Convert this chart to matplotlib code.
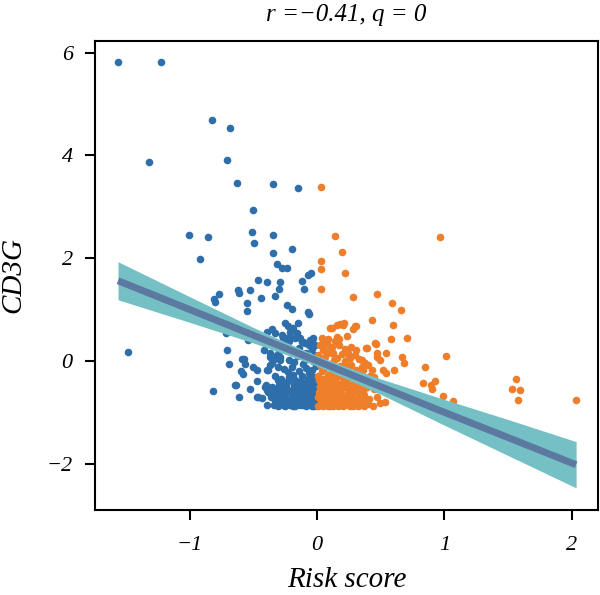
import matplotlib
matplotlib.use("Agg")
import matplotlib.pyplot as plt

# puntos con risk score < 0 (azul)
low_x = [-1.563, -1.225, -1.32, -0.825, -0.683, -0.707, -0.628, -0.346, -0.149, -0.50,
         -1.005, -0.854, -0.508, -0.495, -0.343, -0.921, -0.343, -0.199, -0.314, -0.277,
         -0.233, -0.463, -0.393, -0.293, -0.115, -0.068, -0.049, -0.102, -0.77, -0.618,
         -0.61, -0.529, -0.299, -0.328, -0.442, -0.807, -0.801, -0.548, -0.548, -0.236,
         -0.194, -0.147, -0.073, -0.063, -1.482, -0.815, -0.715, -0.709, -0.689, -0.642,
         -0.61, -0.571, -0.595, -0.579, -0.526, -0.50, -0.469, -0.542, -0.474, -0.469,
         -0.414, -0.403, -0.395, -0.395,
         -0.251, -0.225, -0.212, -0.186, -0.356, -0.39, -0.33, -0.277, -0.16, -0.134,
         -0.094, -0.055, -0.029, -0.369, -0.317, -0.291, -0.592, -0.566, -0.395, -0.369,
         -0.639, -0.408, -0.382, -0.466, -0.33, -0.343, -0.016, -0.081,
         -0.265, -0.238, -0.212, -0.12, -0.042, -0.369, -0.343, -0.356, -0.382, -0.304,
         -0.317, -0.277, -0.238, -0.186, -0.43,
         -0.29, -0.22, -0.15, -0.08, -0.03, -0.18, -0.11,
         -0.31, -0.26, -0.20, -0.14, -0.09, -0.04, -0.01, -0.23, -0.06,
         -0.33, -0.28, -0.22, -0.17, -0.12, -0.07, -0.02, -0.25, -0.10, -0.04, -0.19,
         -0.35, -0.30, -0.24, -0.20, -0.15, -0.11, -0.06, -0.02, -0.27, -0.17, -0.08, -0.13,
         -0.36, -0.31, -0.26, -0.22, -0.18, -0.14, -0.09, -0.05, -0.01, -0.29, -0.12, -0.03,
         -0.34, -0.27, -0.23, -0.19, -0.15, -0.11, -0.07, -0.04, -0.01, -0.21, -0.09,
         -0.30, -0.25, -0.20, -0.14, -0.09, -0.04, -0.22, -0.17, -0.11, -0.06, -0.27, -0.35, -0.02,
         -0.32, -0.29, -0.25, -0.21, -0.16, -0.13, -0.08, -0.04, -0.015,
         -0.33, -0.28, -0.24, -0.20, -0.16, -0.12, -0.07, -0.03, -0.01,
         -0.31, -0.25, -0.21, -0.17, -0.13, -0.09, -0.05, -0.02,
         -0.30, -0.26, -0.18, -0.09, -0.05, -0.02, -0.14, -0.23, -0.06, -0.28]
low_y = [5.82, 5.82, 3.87, 4.68, 4.53, 3.90, 3.47, 3.44, 3.36, 2.94,
         2.45, 2.42, 2.50, 2.30, 2.45, 1.98, 2.09, 2.17, 1.89, 1.80,
         1.80, 1.57, 1.54, 1.54, 1.56, 1.67, 1.71, 1.39, 1.30, 1.37,
         1.32, 1.37, 1.39, 1.26, 1.23, 1.20, 1.14, 1.12, 0.97, 1.08,
         1.01, 0.73, 0.96, 0.91, 0.17, -0.58, 0.54, 0.21, -0.06, -0.47,
         -0.71, 0.04, -0.19, -0.25, -0.55, -0.12, -0.18, 0.40, -0.40, -0.71,
         0.21, -0.47, -0.56, -0.86,
         0.73, 0.67, 0.57, 0.64, 0.62, 0.57, 0.54, 0.51, 0.54, 0.44,
         0.34, 0.41, 0.44, 0.08, 0.12, 0.02, 0.03, -0.06, -0.18, -0.08,
         -0.47, -0.50, -0.60, -0.71, -0.56, -0.66, 0.31, 0.34,
         0.34, 0.44, 0.47, 0.36, 0.38, 0.15, 0.02, -0.05, -0.17, -0.37,
         -0.56, -0.69, -0.82, -0.79, -0.72,
         0.07, 0.02, 0.09, 0.04, -0.01, -0.03, -0.06,
         -0.12, -0.16, -0.11, -0.19, -0.13, -0.17, -0.09, -0.22, -0.24,
         -0.29, -0.35, -0.31, -0.38, -0.30, -0.36, -0.31, -0.42, -0.43, -0.45, -0.27,
         -0.50, -0.55, -0.49, -0.57, -0.51, -0.58, -0.52, -0.59, -0.62, -0.64, -0.65, -0.46,
         -0.70, -0.74, -0.69, -0.76, -0.71, -0.77, -0.72, -0.78, -0.70, -0.80, -0.66, -0.64,
         -0.85, -0.86, -0.83, -0.87, -0.84, -0.86, -0.83, -0.87, -0.84, -0.80, -0.80,
         0.22, 0.30, 0.18, 0.26, 0.16, 0.23, 0.38, 0.45, 0.36, 0.30, 0.45, 0.33, 0.12,
         -0.60, -0.66, -0.58, -0.63, -0.59, -0.69, -0.61, -0.68, -0.56,
         -0.78, -0.72, -0.79, -0.73, -0.81, -0.75, -0.81, -0.74, -0.80,
         -0.87, -0.88, -0.86, -0.88, -0.85, -0.88, -0.85, -0.88,
         -0.47, -0.52, -0.46, -0.49, -0.55, -0.42, -0.41, -0.40, -0.38, -0.44]

# puntos con risk score >= 0 (naranja)
high_x = [0.029, 0.141, 0.966, 0.199, 0.029, 0.029, 0.22, 0.029, 0.28, 0.474,
          0.587, 0.66, 0.43, 0.595, 0.705, 0.579, 0.466, 0.542, 0.385, 0.299,
          0.285, 0.181, 0.202, 0.115, 0.233, 0.175, 0.665, 0.683, 0.607, 0.542,
          0.521, 1.013, 0.851, 0.83, 0.90, 0.927, 0.893, 0.987, 1.071, 0.495,
          0.534, 0.469, 0.495, 0.43, 0.448, 0.351, 0.377, 0.364, 0.246, 0.259,
          0.22, 1.563, 1.529, 1.595, 1.581, 2.035,
          0.10, 0.155, 0.21, 0.31, 0.155, 0.39, 0.456, 0.469, 0.05, 0.076, 0.10, 0.128,
          0.02, 0.07, 0.12, 0.17, 0.05, 0.10, 0.22, 0.27, 0.31, 0.14, 0.09, 0.04,
          0.01, 0.06, 0.11, 0.16, 0.20, 0.25, 0.30, 0.03, 0.13, 0.22, 0.33, 0.08,
          0.02, 0.06, 0.10, 0.14, 0.18, 0.23, 0.27, 0.31, 0.35, 0.40, 0.04, 0.12, 0.20,
          0.01, 0.05, 0.09, 0.13, 0.17, 0.21, 0.25, 0.29, 0.33, 0.38, 0.42, 0.07, 0.16, 0.24,
          0.02, 0.06, 0.10, 0.14, 0.18, 0.22, 0.26, 0.30, 0.34, 0.39, 0.45, 0.04, 0.12, 0.20, 0.28,
          0.01, 0.05, 0.09, 0.13, 0.17, 0.21, 0.25, 0.29, 0.33, 0.37, 0.41, 0.47, 0.36,
          0.02, 0.06, 0.10, 0.14, 0.18, 0.22, 0.26, 0.30, 0.34, 0.40, 0.44, 0.08, 0.16, 0.24,
          0.015, 0.04, 0.08, 0.11, 0.15, 0.19, 0.24, 0.27, 0.32, 0.36,
          0.03, 0.07, 0.11, 0.155, 0.19, 0.23, 0.275, 0.31, 0.35, 0.38,
          0.01, 0.045, 0.085, 0.125, 0.165, 0.205, 0.245, 0.285, 0.32, 0.37,
          0.03, 0.08, 0.12, 0.19, 0.26, 0.30, 0.015, 0.10, 0.21, 0.35]
high_y = [3.39, 2.43, 2.41, 2.11, 1.94, 1.78, 1.71, 1.39, 1.24, 1.31,
          1.12, 0.99, 0.80, 0.69, 0.45, 0.43, 0.33, 0.16, 0.25, 0.67,
          0.62, 0.72, 0.70, 0.64, 0.49, 0.43, 0.07, -0.05, -0.18, -0.23,
          -0.18, 0.10, -0.12, -0.43, -0.55, -0.40, -0.47, -0.68, -0.78, -0.82,
          -0.79, 0.08, 0.02, -0.18, -0.31, 0.02, -0.05, -0.18, 0.15, 0.05,
          -0.05, -0.35, -0.545, -0.565, -0.77, -0.76,
          0.64, 0.70, 0.73, 0.67, 0.47, 0.25, 0.34, 0.15, 0.41, 0.34, 0.21, 0.15,
          0.30, 0.33, 0.27, 0.31, 0.22, 0.20, 0.24, 0.28, 0.21, 0.38, 0.42, 0.45,
          0.12, 0.08, 0.15, 0.06, 0.13, 0.08, 0.12, 0.02, 0.01, 0.00, 0.04, 0.17,
          -0.08, -0.14, -0.06, -0.17, -0.09, -0.15, -0.07, -0.18, -0.11, -0.08, -0.20, -0.22, -0.21,
          -0.30, -0.36, -0.27, -0.34, -0.29, -0.38, -0.31, -0.36, -0.27, -0.34, -0.29, -0.41, -0.43, -0.44,
          -0.50, -0.56, -0.48, -0.54, -0.59, -0.50, -0.57, -0.49, -0.56, -0.51, -0.55, -0.62, -0.64, -0.66, -0.63,
          -0.71, -0.76, -0.69, -0.75, -0.72, -0.78, -0.70, -0.76, -0.71, -0.66, -0.74, -0.70, -0.79,
          -0.85, -0.82, -0.87, -0.83, -0.86, -0.84, -0.87, -0.82, -0.86, -0.84, -0.87, -0.79, -0.80, -0.79,
          -0.60, -0.66, -0.58, -0.62, -0.67, -0.55, -0.62, -0.53, -0.61, -0.58,
          -0.80, -0.74, -0.79, -0.77, -0.81, -0.74, -0.80, -0.77, -0.82, -0.75,
          -0.88, -0.87, -0.88, -0.88, -0.87, -0.88, -0.86, -0.88, -0.88, -0.88,
          -0.45, -0.47, -0.44, -0.45, -0.47, -0.43, -0.38, -0.37, -0.33, -0.46]

# recta de regresion y banda de confianza
fit_x = [-1.563, -1.0, -0.5, -0.25, 0.0, 0.25, 0.5, 1.0, 1.5, 2.035]
fit_y = [1.56, 1.00, 0.50, 0.25, 0.00, -0.25, -0.50, -1.00, -1.49, -2.02]
fit_lo = [1.19, 0.75, 0.35, 0.13, -0.10, -0.37, -0.65, -1.25, -1.84, -2.47]
fit_hi = [1.93, 1.25, 0.65, 0.37, 0.10, -0.13, -0.35, -0.75, -1.14, -1.57]

titulo = "r =\u22120.41, q = 0"
xticks = [-1, 0, 1, 2]
yticks = [-2, 0, 2, 4, 6]

# colores
azul = "#2e6fab"
naranja = "#ef7e2b"
banda = "#74c0c4"
linea = "#5b79a1"

plt.rcParams["font.family"] = "Liberation Serif"
plt.rcParams["font.style"] = "italic"

fig = plt.figure(figsize=(6, 5.95), dpi=100)
ax = fig.add_axes([0.1583, 0.1429, 0.8384, 0.7887])

ax.scatter(low_x, low_y, s=30, color=azul, linewidths=0, zorder=2)
ax.scatter(high_x, high_y, s=30, color=naranja, linewidths=0, zorder=2)

ax.fill_between(fit_x, fit_lo, fit_hi, color=banda, linewidth=0, zorder=3)
ax.plot(fit_x, fit_y, color=linea, lw=5, solid_capstyle="butt", zorder=4)

ax.set_xlim(-1.744, 2.207)
ax.set_ylim(-2.90, 6.23)
ax.set_xticks(xticks)
ax.set_yticks(yticks)
ax.set_xticklabels([str(t).replace("-", "\u2212") for t in xticks])
ax.set_yticklabels([str(t).replace("-", "\u2212") for t in yticks])
ax.tick_params(direction="out", length=7, width=1.5, labelsize=16, colors="black")
ax.tick_params(axis="x", pad=12)
ax.tick_params(axis="y", pad=9)
for sp in ax.spines.values():
    sp.set_linewidth(1.5)

fig.text(346.5 / 600, 1 - 15 / 595, titulo, ha="center", va="center", fontsize=18)
fig.text(346.5 / 600, 1 - 580 / 595, "Risk score", ha="center", va="center", fontsize=21)
fig.text(13 / 600, 1 - 275 / 595, "CD3G", ha="center", va="center", rotation=90, fontsize=21)

fig.savefig("out.png", dpi=100)
